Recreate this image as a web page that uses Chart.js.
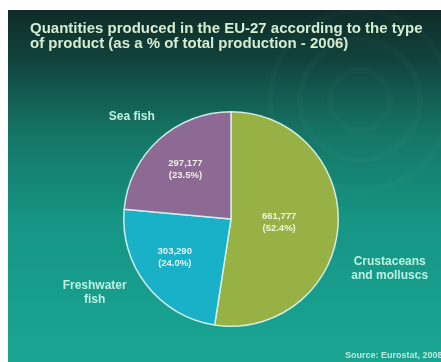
<!DOCTYPE html>
<html>
<head>
<meta charset="utf-8">
<script src="https://cdn.jsdelivr.net/npm/chart.js@4"></script>
<style>
  html, body { margin: 0; padding: 0; background: #fff; }
  canvas { display: block; }
</style>
</head>
<body>
<canvas id="fishChart" width="441" height="362"></canvas>
<script>
// ================== DATA ==================
const categories = ["Crustaceans and molluscs", "Freshwater fish", "Sea fish"];
const tonnes = [661777, 303290, 297177];
const sliceColors = ["#98b145", "#18b1c8", "#8c6a93"];
const titleLines = [
  "Quantities produced in the EU-27 according to the type",
  "of product (as a % of total production - 2006)",
];
const sourceText = "Source: Eurostat, 2008";

const total = tonnes.reduce((a, b) => a + b, 0);
const fmt = (n) => n.toLocaleString("en-US");
const pct = (n) => ((n / total) * 100).toFixed(1) + "%";

// ================== BACKGROUND + TITLE ==================
const backdrop = {
  id: "backdrop",
  beforeDraw(chart) {
    const { ctx, width, height } = chart;
    ctx.save();
    ctx.fillStyle = "#ffffff";
    ctx.fillRect(0, 0, width, height);

    const g = ctx.createLinearGradient(0, 10, 0, height);
    g.addColorStop(0, "#0f2b27");
    g.addColorStop(0.14, "#11433d");
    g.addColorStop(0.35, "#157565");
    g.addColorStop(0.6, "#169585");
    g.addColorStop(1, "#19a592");
    ctx.fillStyle = g;
    ctx.fillRect(8, 10, width - 8, height - 10);

    // faint ripple rings on the right
    ctx.strokeStyle = "rgba(255,255,255,0.018)";
    ctx.lineWidth = 6;
    [30, 60, 90].forEach((r) => {
      ctx.beginPath();
      ctx.arc(360, 100, r, 0, Math.PI * 2);
      ctx.stroke();
    });

    ctx.fillStyle = "#d6ecd0";
    ctx.font = "bold 15px 'Liberation Sans', Arial, sans-serif";
    ctx.textBaseline = "middle";
    ctx.fillText(titleLines[0], 30, 29);
    ctx.fillText(titleLines[1], 30, 44);

    ctx.fillStyle = "rgba(220,245,235,0.85)";
    ctx.font = "bold 9px 'Liberation Sans', Arial, sans-serif";
    ctx.fillText(sourceText, 345, 356);
    ctx.restore();
  },
};

// ================== LABELS ==================
// polar distance (x radius) from the pie centre along the slice middle, then a nudge
const outsidePos = [
  { r: 1.4, dx: 9, dy: 38 },
  { r: 1.4, dx: -18, dy: -19 },
  { r: 1.33, dx: -3, dy: 3 },
];
const outsideLines = [["Crustaceans", "and molluscs"], ["Freshwater", "fish"], ["Sea fish"]];
const insidePos = [
  { r: 0.45, dx: 0, dy: 0 },
  { r: 0.63, dx: -3, dy: -3 },
  { r: 0.63, dx: 0, dy: 0 },
];

const sliceLabels = {
  id: "sliceLabels",
  afterDatasetsDraw(chart) {
    const { ctx } = chart;
    const arcs = chart.getDatasetMeta(0).data;
    ctx.save();
    ctx.textAlign = "center";
    ctx.textBaseline = "middle";
    arcs.forEach((arc, i) => {
      const mid = (arc.startAngle + arc.endAngle) / 2;
      const R = arc.outerRadius;

      // value + share inside the slice
      const p = insidePos[i];
      const ix = arc.x + Math.cos(mid) * R * p.r + p.dx;
      const iy = arc.y + Math.sin(mid) * R * p.r + p.dy;
      ctx.fillStyle = "rgba(245,248,240,0.92)";
      ctx.font = "bold 9.5px 'Liberation Sans', Arial, sans-serif";
      ctx.fillText(fmt(tonnes[i]), ix, iy - 6);
      ctx.fillText("(" + pct(tonnes[i]) + ")", ix, iy + 6);

      // category name outside the pie
      const o = outsidePos[i];
      const ox = arc.x + Math.cos(mid) * R * o.r + o.dx;
      const oy = arc.y + Math.sin(mid) * R * o.r + o.dy;
      ctx.fillStyle = "#bff0df";
      ctx.font = "bold 12px 'Liberation Sans', Arial, sans-serif";
      const lines = outsideLines[i];
      lines.forEach((t, k) => {
        ctx.fillText(t, ox, oy + (k - (lines.length - 1) / 2) * 14);
      });
    });
    ctx.restore();
  },
};

// ================== CHART ==================
const ctx = document.getElementById("fishChart").getContext("2d");
const fishChart = new Chart(ctx, {
  type: "pie",
  data: {
    labels: categories,
    datasets: [
      {
        data: tonnes,
        backgroundColor: sliceColors,
        borderColor: "rgba(215,240,235,0.95)",
        borderWidth: 1.5,
      },
    ],
  },
  options: {
    responsive: false,
    animation: false,
    layout: { padding: { left: 123, right: 102, top: 111, bottom: 35 } },
    plugins: {
      legend: { display: false },
      tooltip: { enabled: false },
    },
  },
  plugins: [backdrop, sliceLabels],
});
</script>
</body>
</html>
